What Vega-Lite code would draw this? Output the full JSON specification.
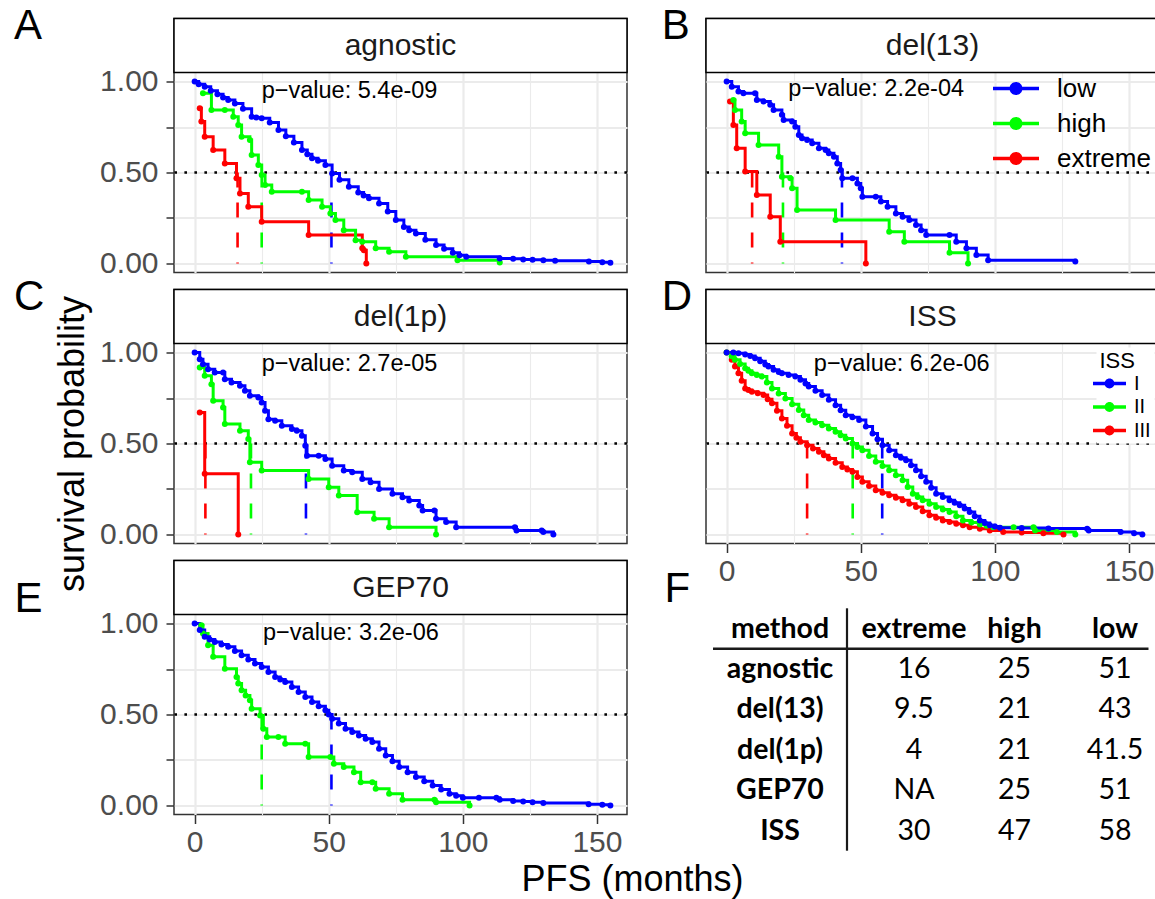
{
 "$schema": "https://vega.github.io/schema/vega-lite/v6.json",
 "usermeta": {"embedOptions": {"actions": false}},
 "padding": {"left": 13, "top": 4.5, "right": 0, "bottom": 0},
 "background": "white",
 "config": {
  "font": "Liberation Sans",
  "view": {"stroke": "#333333", "strokeWidth": 1.5},
  "axis": {"domain": false, "grid": true, "gridColor": "#EBEBEB", "labelFont": "Liberation Sans", "labelFontSize": 30, "labelColor": "#4D4D4D", "tickColor": "#333333", "tickWidth": 1.5, "titleFont": "Liberation Sans", "titleFontSize": 36, "titleFontWeight": "normal", "titleColor": "black"},
  "legend": {"labelFont": "Liberation Sans", "titleFont": "Liberation Sans"}
 },
 "datasets": {
  "km": [
   {"panel":"agnostic","group":"extreme","t":1.9,"s":0.853},{"panel":"agnostic","group":"extreme","t":2.5,"s":0.78},{"panel":"agnostic","group":"extreme","t":3.75,"s":0.697},{"panel":"agnostic","group":"extreme","t":6.9,"s":0.624},{"panel":"agnostic","group":"extreme","t":11.25,"s":0.55},{"panel":"agnostic","group":"extreme","t":15.6,"s":0.468},{"panel":"agnostic","group":"extreme","t":16.9,"s":0.385},{"panel":"agnostic","group":"extreme","t":20,"s":0.312},{"panel":"agnostic","group":"extreme","t":25,"s":0.229},{"panel":"agnostic","group":"extreme","t":42.5,"s":0.156},{"panel":"agnostic","group":"extreme","t":62.5,"s":0.083},{"panel":"agnostic","group":"extreme","t":63.1,"s":0.073},{"panel":"agnostic","group":"extreme","t":64,"s":0},
   {"panel":"agnostic","group":"high","t":3.1,"s":0.936},{"panel":"agnostic","group":"high","t":6.25,"s":0.844},{"panel":"agnostic","group":"high","t":11.25,"s":0.844},{"panel":"agnostic","group":"high","t":14.4,"s":0.807},{"panel":"agnostic","group":"high","t":16.25,"s":0.761},{"panel":"agnostic","group":"high","t":17.5,"s":0.697},{"panel":"agnostic","group":"high","t":20.6,"s":0.679},{"panel":"agnostic","group":"high","t":21.25,"s":0.596},{"panel":"agnostic","group":"high","t":23.75,"s":0.541},{"panel":"agnostic","group":"high","t":25,"s":0.486},{"panel":"agnostic","group":"high","t":26.25,"s":0.431},{"panel":"agnostic","group":"high","t":28.75,"s":0.394},{"panel":"agnostic","group":"high","t":40,"s":0.394},{"panel":"agnostic","group":"high","t":42.5,"s":0.349},{"panel":"agnostic","group":"high","t":47.5,"s":0.312},{"panel":"agnostic","group":"high","t":50.6,"s":0.275},{"panel":"agnostic","group":"high","t":52.5,"s":0.239},{"panel":"agnostic","group":"high","t":55.6,"s":0.183},{"panel":"agnostic","group":"high","t":60,"s":0.128},{"panel":"agnostic","group":"high","t":62.5,"s":0.119},{"panel":"agnostic","group":"high","t":67.5,"s":0.083},{"panel":"agnostic","group":"high","t":72.5,"s":0.064},{"panel":"agnostic","group":"high","t":78.75,"s":0.037},{"panel":"agnostic","group":"high","t":98,"s":0.018},{"panel":"agnostic","group":"high","t":113.75,"s":0.005},
   {"panel":"agnostic","group":"low","t":0,"s":1},{"panel":"agnostic","group":"low","t":1.5,"s":0.985},{"panel":"agnostic","group":"low","t":3.75,"s":0.972},{"panel":"agnostic","group":"low","t":6,"s":0.95},{"panel":"agnostic","group":"low","t":8.5,"s":0.93},{"panel":"agnostic","group":"low","t":10.6,"s":0.913},{"panel":"agnostic","group":"low","t":12.5,"s":0.899},{"panel":"agnostic","group":"low","t":15,"s":0.88},{"panel":"agnostic","group":"low","t":18,"s":0.85},{"panel":"agnostic","group":"low","t":21.25,"s":0.807},{"panel":"agnostic","group":"low","t":23,"s":0.803},{"panel":"agnostic","group":"low","t":25,"s":0.798},{"panel":"agnostic","group":"low","t":28,"s":0.775},{"panel":"agnostic","group":"low","t":31.25,"s":0.734},{"panel":"agnostic","group":"low","t":34,"s":0.7},{"panel":"agnostic","group":"low","t":37,"s":0.665},{"panel":"agnostic","group":"low","t":40,"s":0.624},{"panel":"agnostic","group":"low","t":42,"s":0.6},{"panel":"agnostic","group":"low","t":43.75,"s":0.578},{"panel":"agnostic","group":"low","t":46,"s":0.565},{"panel":"agnostic","group":"low","t":48.75,"s":0.541},{"panel":"agnostic","group":"low","t":51.25,"s":0.495},{"panel":"agnostic","group":"low","t":54,"s":0.46},{"panel":"agnostic","group":"low","t":57.5,"s":0.422},{"panel":"agnostic","group":"low","t":61,"s":0.39},{"panel":"agnostic","group":"low","t":63,"s":0.374},{"panel":"agnostic","group":"low","t":65,"s":0.358},{"panel":"agnostic","group":"low","t":68.75,"s":0.33},{"panel":"agnostic","group":"low","t":72,"s":0.285},{"panel":"agnostic","group":"low","t":75,"s":0.239},{"panel":"agnostic","group":"low","t":78,"s":0.2},{"panel":"agnostic","group":"low","t":80,"s":0.183},{"panel":"agnostic","group":"low","t":82.5,"s":0.165},{"panel":"agnostic","group":"low","t":86,"s":0.13},{"panel":"agnostic","group":"low","t":90,"s":0.101},{"panel":"agnostic","group":"low","t":93,"s":0.08},{"panel":"agnostic","group":"low","t":96.25,"s":0.059},{"panel":"agnostic","group":"low","t":98.75,"s":0.045},{"panel":"agnostic","group":"low","t":101.25,"s":0.037},{"panel":"agnostic","group":"low","t":113.75,"s":0.027},{"panel":"agnostic","group":"low","t":118.75,"s":0.025},{"panel":"agnostic","group":"low","t":122.5,"s":0.022},{"panel":"agnostic","group":"low","t":126,"s":0.02},{"panel":"agnostic","group":"low","t":130,"s":0.018},{"panel":"agnostic","group":"low","t":134.4,"s":0.015},{"panel":"agnostic","group":"low","t":147,"s":0.01},{"panel":"agnostic","group":"low","t":152,"s":0.006},{"panel":"agnostic","group":"low","t":155,"s":0.003},

   {"panel":"del(13)","group":"extreme","t":1.25,"s":0.89},{"panel":"del(13)","group":"extreme","t":2.5,"s":0.761},{"panel":"del(13)","group":"extreme","t":3.75,"s":0.633},{"panel":"del(13)","group":"extreme","t":6.9,"s":0.505},{"panel":"del(13)","group":"extreme","t":11.25,"s":0.376},{"panel":"del(13)","group":"extreme","t":16.25,"s":0.257},{"panel":"del(13)","group":"extreme","t":20,"s":0.119},{"panel":"del(13)","group":"extreme","t":51.9,"s":0},
   {"panel":"del(13)","group":"high","t":2.5,"s":0.899},{"panel":"del(13)","group":"high","t":3.1,"s":0.844},{"panel":"del(13)","group":"high","t":5.6,"s":0.78},{"panel":"del(13)","group":"high","t":6.9,"s":0.716},{"panel":"del(13)","group":"high","t":11.9,"s":0.651},{"panel":"del(13)","group":"high","t":19.4,"s":0.587},{"panel":"del(13)","group":"high","t":20.6,"s":0.477},{"panel":"del(13)","group":"high","t":23.75,"s":0.468},{"panel":"del(13)","group":"high","t":24.4,"s":0.413},{"panel":"del(13)","group":"high","t":26.25,"s":0.294},{"panel":"del(13)","group":"high","t":40.6,"s":0.239},{"panel":"del(13)","group":"high","t":60.6,"s":0.174},{"panel":"del(13)","group":"high","t":66.25,"s":0.119},{"panel":"del(13)","group":"high","t":83.1,"s":0.059},{"panel":"del(13)","group":"high","t":90,"s":0},
   {"panel":"del(13)","group":"low","t":0,"s":1},{"panel":"del(13)","group":"low","t":1.9,"s":0.972},{"panel":"del(13)","group":"low","t":4.4,"s":0.945},{"panel":"del(13)","group":"low","t":6.25,"s":0.936},{"panel":"del(13)","group":"low","t":10.6,"s":0.936},{"panel":"del(13)","group":"low","t":11.25,"s":0.899},{"panel":"del(13)","group":"low","t":13.75,"s":0.89},{"panel":"del(13)","group":"low","t":16.25,"s":0.872},{"panel":"del(13)","group":"low","t":17.5,"s":0.844},{"panel":"del(13)","group":"low","t":20.6,"s":0.817},{"panel":"del(13)","group":"low","t":21.25,"s":0.789},{"panel":"del(13)","group":"low","t":24.4,"s":0.78},{"panel":"del(13)","group":"low","t":25.6,"s":0.752},{"panel":"del(13)","group":"low","t":26.9,"s":0.706},{"panel":"del(13)","group":"low","t":28.1,"s":0.688},{"panel":"del(13)","group":"low","t":30,"s":0.679},{"panel":"del(13)","group":"low","t":31.9,"s":0.661},{"panel":"del(13)","group":"low","t":34.4,"s":0.633},{"panel":"del(13)","group":"low","t":36.9,"s":0.624},{"panel":"del(13)","group":"low","t":38.1,"s":0.606},{"panel":"del(13)","group":"low","t":40,"s":0.587},{"panel":"del(13)","group":"low","t":41.25,"s":0.55},{"panel":"del(13)","group":"low","t":42.5,"s":0.514},{"panel":"del(13)","group":"low","t":43.1,"s":0.468},{"panel":"del(13)","group":"low","t":46.9,"s":0.468},{"panel":"del(13)","group":"low","t":48.75,"s":0.44},{"panel":"del(13)","group":"low","t":50,"s":0.413},{"panel":"del(13)","group":"low","t":50.6,"s":0.367},{"panel":"del(13)","group":"low","t":55.6,"s":0.367},{"panel":"del(13)","group":"low","t":57.5,"s":0.34},{"panel":"del(13)","group":"low","t":60,"s":0.312},{"panel":"del(13)","group":"low","t":63.1,"s":0.275},{"panel":"del(13)","group":"low","t":65.6,"s":0.257},{"panel":"del(13)","group":"low","t":68.1,"s":0.239},{"panel":"del(13)","group":"low","t":70.6,"s":0.211},{"panel":"del(13)","group":"low","t":72.5,"s":0.183},{"panel":"del(13)","group":"low","t":74.4,"s":0.156},{"panel":"del(13)","group":"low","t":83.1,"s":0.156},{"panel":"del(13)","group":"low","t":85.6,"s":0.119},{"panel":"del(13)","group":"low","t":89.4,"s":0.083},{"panel":"del(13)","group":"low","t":93.1,"s":0.046},{"panel":"del(13)","group":"low","t":97.5,"s":0.018},{"panel":"del(13)","group":"low","t":130,"s":0.01},

   {"panel":"del(1p)","group":"extreme","t":1.9,"s":0.671},{"panel":"del(1p)","group":"extreme","t":3.75,"s":0.333},{"panel":"del(1p)","group":"extreme","t":16.25,"s":0},
   {"panel":"del(1p)","group":"high","t":1.9,"s":0.918},{"panel":"del(1p)","group":"high","t":3.75,"s":0.872},{"panel":"del(1p)","group":"high","t":6.25,"s":0.826},{"panel":"del(1p)","group":"high","t":6.9,"s":0.735},{"panel":"del(1p)","group":"high","t":10.6,"s":0.698},{"panel":"del(1p)","group":"high","t":11.25,"s":0.607},{"panel":"del(1p)","group":"high","t":16.9,"s":0.57},{"panel":"del(1p)","group":"high","t":20,"s":0.525},{"panel":"del(1p)","group":"high","t":20.6,"s":0.397},{"panel":"del(1p)","group":"high","t":25,"s":0.351},{"panel":"del(1p)","group":"high","t":42.5,"s":0.305},{"panel":"del(1p)","group":"high","t":50,"s":0.26},{"panel":"del(1p)","group":"high","t":53.75,"s":0.214},{"panel":"del(1p)","group":"high","t":60.6,"s":0.122},{"panel":"del(1p)","group":"high","t":66.9,"s":0.086},{"panel":"del(1p)","group":"high","t":72.5,"s":0.04},{"panel":"del(1p)","group":"high","t":90,"s":0},
   {"panel":"del(1p)","group":"low","t":0,"s":1},{"panel":"del(1p)","group":"low","t":1.9,"s":0.963},{"panel":"del(1p)","group":"low","t":3.1,"s":0.936},{"panel":"del(1p)","group":"low","t":5,"s":0.909},{"panel":"del(1p)","group":"low","t":7.5,"s":0.89},{"panel":"del(1p)","group":"low","t":10.6,"s":0.89},{"panel":"del(1p)","group":"low","t":11.25,"s":0.854},{"panel":"del(1p)","group":"low","t":13.75,"s":0.835},{"panel":"del(1p)","group":"low","t":16.9,"s":0.817},{"panel":"del(1p)","group":"low","t":18.75,"s":0.79},{"panel":"del(1p)","group":"low","t":20.6,"s":0.762},{"panel":"del(1p)","group":"low","t":23.75,"s":0.753},{"panel":"del(1p)","group":"low","t":25,"s":0.726},{"panel":"del(1p)","group":"low","t":26.25,"s":0.68},{"panel":"del(1p)","group":"low","t":27.5,"s":0.634},{"panel":"del(1p)","group":"low","t":30,"s":0.625},{"panel":"del(1p)","group":"low","t":32.5,"s":0.598},{"panel":"del(1p)","group":"low","t":36.25,"s":0.58},{"panel":"del(1p)","group":"low","t":38.1,"s":0.57},{"panel":"del(1p)","group":"low","t":40,"s":0.543},{"panel":"del(1p)","group":"low","t":41.25,"s":0.488},{"panel":"del(1p)","group":"low","t":41.9,"s":0.433},{"panel":"del(1p)","group":"low","t":46.25,"s":0.433},{"panel":"del(1p)","group":"low","t":48.75,"s":0.415},{"panel":"del(1p)","group":"low","t":51.25,"s":0.378},{"panel":"del(1p)","group":"low","t":55.6,"s":0.351},{"panel":"del(1p)","group":"low","t":58.75,"s":0.342},{"panel":"del(1p)","group":"low","t":62.5,"s":0.305},{"panel":"del(1p)","group":"low","t":65.6,"s":0.287},{"panel":"del(1p)","group":"low","t":68.75,"s":0.25},{"panel":"del(1p)","group":"low","t":73.75,"s":0.223},{"panel":"del(1p)","group":"low","t":77.5,"s":0.205},{"panel":"del(1p)","group":"low","t":80,"s":0.186},{"panel":"del(1p)","group":"low","t":83.75,"s":0.159},{"panel":"del(1p)","group":"low","t":85,"s":0.132},{"panel":"del(1p)","group":"low","t":89.4,"s":0.132},{"panel":"del(1p)","group":"low","t":90,"s":0.086},{"panel":"del(1p)","group":"low","t":93.75,"s":0.068},{"panel":"del(1p)","group":"low","t":97.5,"s":0.04},{"panel":"del(1p)","group":"low","t":119.4,"s":0.04},{"panel":"del(1p)","group":"low","t":120,"s":0.022},{"panel":"del(1p)","group":"low","t":129.4,"s":0.022},{"panel":"del(1p)","group":"low","t":130,"s":0.013},{"panel":"del(1p)","group":"low","t":133.75,"s":0},

   {"panel":"ISS","group":"III","t":0,"s":1},{"panel":"ISS","group":"III","t":1.9,"s":0.96},{"panel":"ISS","group":"III","t":3.1,"s":0.923},{"panel":"ISS","group":"III","t":4.4,"s":0.886},{"panel":"ISS","group":"III","t":5.6,"s":0.845},{"panel":"ISS","group":"III","t":6.9,"s":0.803},{"panel":"ISS","group":"III","t":8.1,"s":0.794},{"panel":"ISS","group":"III","t":9.4,"s":0.785},{"panel":"ISS","group":"III","t":11.6,"s":0.776},{"panel":"ISS","group":"III","t":13.75,"s":0.767},{"panel":"ISS","group":"III","t":15.3,"s":0.744},{"panel":"ISS","group":"III","t":16.9,"s":0.721},{"panel":"ISS","group":"III","t":18.75,"s":0.68},{"panel":"ISS","group":"III","t":20.6,"s":0.638},{"panel":"ISS","group":"III","t":22.5,"s":0.597},{"panel":"ISS","group":"III","t":24.4,"s":0.555},{"panel":"ISS","group":"III","t":26,"s":0.532},{"panel":"ISS","group":"III","t":27.5,"s":0.509},{"panel":"ISS","group":"III","t":30,"s":0.491},{"panel":"ISS","group":"III","t":32.2,"s":0.472},{"panel":"ISS","group":"III","t":34.4,"s":0.454},{"panel":"ISS","group":"III","t":36.25,"s":0.436},{"panel":"ISS","group":"III","t":38.1,"s":0.417},{"panel":"ISS","group":"III","t":40.6,"s":0.394},{"panel":"ISS","group":"III","t":43.1,"s":0.371},{"panel":"ISS","group":"III","t":45,"s":0.357},{"panel":"ISS","group":"III","t":46.9,"s":0.344},{"panel":"ISS","group":"III","t":48.75,"s":0.316},{"panel":"ISS","group":"III","t":50.6,"s":0.289},{"panel":"ISS","group":"III","t":53.1,"s":0.266},{"panel":"ISS","group":"III","t":55.6,"s":0.243},{"panel":"ISS","group":"III","t":58.1,"s":0.229},{"panel":"ISS","group":"III","t":60.6,"s":0.215},{"panel":"ISS","group":"III","t":63.1,"s":0.201},{"panel":"ISS","group":"III","t":65.6,"s":0.188},{"panel":"ISS","group":"III","t":68.1,"s":0.169},{"panel":"ISS","group":"III","t":70.6,"s":0.151},{"panel":"ISS","group":"III","t":73.1,"s":0.128},{"panel":"ISS","group":"III","t":75.6,"s":0.105},{"panel":"ISS","group":"III","t":78.1,"s":0.091},{"panel":"ISS","group":"III","t":80.6,"s":0.077},{"panel":"ISS","group":"III","t":83.1,"s":0.068},{"panel":"ISS","group":"III","t":85.6,"s":0.059},{"panel":"ISS","group":"III","t":88.1,"s":0.05},{"panel":"ISS","group":"III","t":90.6,"s":0.04},{"panel":"ISS","group":"III","t":94.4,"s":0.031},{"panel":"ISS","group":"III","t":98.1,"s":0.022},{"panel":"ISS","group":"III","t":103.1,"s":0.013},{"panel":"ISS","group":"III","t":110,"s":0.01},{"panel":"ISS","group":"III","t":118.1,"s":0.007},{"panel":"ISS","group":"III","t":125.6,"s":0},
   {"panel":"ISS","group":"II","t":0,"s":1},{"panel":"ISS","group":"II","t":1.9,"s":0.98},{"panel":"ISS","group":"II","t":3.1,"s":0.96},{"panel":"ISS","group":"II","t":5,"s":0.937},{"panel":"ISS","group":"II","t":6.9,"s":0.914},{"panel":"ISS","group":"II","t":8.1,"s":0.9},{"panel":"ISS","group":"II","t":9.4,"s":0.886},{"panel":"ISS","group":"II","t":11.25,"s":0.877},{"panel":"ISS","group":"II","t":13.1,"s":0.868},{"panel":"ISS","group":"II","t":15,"s":0.835},{"panel":"ISS","group":"II","t":16.9,"s":0.803},{"panel":"ISS","group":"II","t":19.4,"s":0.775},{"panel":"ISS","group":"II","t":21.9,"s":0.748},{"panel":"ISS","group":"II","t":24.4,"s":0.716},{"panel":"ISS","group":"II","t":26.9,"s":0.684},{"panel":"ISS","group":"II","t":28.75,"s":0.656},{"panel":"ISS","group":"II","t":30.6,"s":0.629},{"panel":"ISS","group":"II","t":33.1,"s":0.615},{"panel":"ISS","group":"II","t":35.6,"s":0.601},{"panel":"ISS","group":"II","t":38.1,"s":0.583},{"panel":"ISS","group":"II","t":40.6,"s":0.564},{"panel":"ISS","group":"II","t":42.5,"s":0.546},{"panel":"ISS","group":"II","t":44.4,"s":0.528},{"panel":"ISS","group":"II","t":46.9,"s":0.5},{"panel":"ISS","group":"II","t":48.75,"s":0.481},{"panel":"ISS","group":"II","t":50.6,"s":0.463},{"panel":"ISS","group":"II","t":53.1,"s":0.431},{"panel":"ISS","group":"II","t":55.6,"s":0.399},{"panel":"ISS","group":"II","t":58.1,"s":0.376},{"panel":"ISS","group":"II","t":60.6,"s":0.353},{"panel":"ISS","group":"II","t":63.1,"s":0.326},{"panel":"ISS","group":"II","t":65.6,"s":0.298},{"panel":"ISS","group":"II","t":67.5,"s":0.261},{"panel":"ISS","group":"II","t":69.4,"s":0.224},{"panel":"ISS","group":"II","t":71.25,"s":0.206},{"panel":"ISS","group":"II","t":73.1,"s":0.188},{"panel":"ISS","group":"II","t":75.6,"s":0.169},{"panel":"ISS","group":"II","t":78.1,"s":0.151},{"panel":"ISS","group":"II","t":80.6,"s":0.137},{"panel":"ISS","group":"II","t":83.1,"s":0.123},{"panel":"ISS","group":"II","t":85.6,"s":0.1},{"panel":"ISS","group":"II","t":88.1,"s":0.077},{"panel":"ISS","group":"II","t":91.25,"s":0.066},{"panel":"ISS","group":"II","t":94.4,"s":0.055},{"panel":"ISS","group":"II","t":96.9,"s":0.047},{"panel":"ISS","group":"II","t":99.4,"s":0.04},{"panel":"ISS","group":"II","t":107,"s":0.04},{"panel":"ISS","group":"II","t":114.4,"s":0.04},{"panel":"ISS","group":"II","t":115,"s":0.022},{"panel":"ISS","group":"II","t":123.1,"s":0.013},{"panel":"ISS","group":"II","t":130,"s":0},
   {"panel":"ISS","group":"I","t":0,"s":1},{"panel":"ISS","group":"I","t":2.5,"s":1},{"panel":"ISS","group":"I","t":4.4,"s":0.996},{"panel":"ISS","group":"I","t":6.9,"s":0.99},{"panel":"ISS","group":"I","t":8.8,"s":0.981},{"panel":"ISS","group":"I","t":10.6,"s":0.969},{"panel":"ISS","group":"I","t":12.5,"s":0.952},{"panel":"ISS","group":"I","t":14.4,"s":0.935},{"panel":"ISS","group":"I","t":15.6,"s":0.923},{"panel":"ISS","group":"I","t":17.5,"s":0.905},{"panel":"ISS","group":"I","t":19.4,"s":0.893},{"panel":"ISS","group":"I","t":20.6,"s":0.886},{"panel":"ISS","group":"I","t":23.1,"s":0.877},{"panel":"ISS","group":"I","t":25.6,"s":0.868},{"panel":"ISS","group":"I","t":27.5,"s":0.85},{"panel":"ISS","group":"I","t":29.4,"s":0.83},{"panel":"ISS","group":"I","t":30.6,"s":0.813},{"panel":"ISS","group":"I","t":33.1,"s":0.79},{"panel":"ISS","group":"I","t":35.6,"s":0.767},{"panel":"ISS","group":"I","t":38.1,"s":0.74},{"panel":"ISS","group":"I","t":40.6,"s":0.711},{"panel":"ISS","group":"I","t":42.5,"s":0.683},{"panel":"ISS","group":"I","t":44.4,"s":0.656},{"panel":"ISS","group":"I","t":46.9,"s":0.645},{"panel":"ISS","group":"I","t":49.4,"s":0.629},{"panel":"ISS","group":"I","t":51.9,"s":0.594},{"panel":"ISS","group":"I","t":54.4,"s":0.555},{"panel":"ISS","group":"I","t":56.25,"s":0.523},{"panel":"ISS","group":"I","t":58.1,"s":0.491},{"panel":"ISS","group":"I","t":60.6,"s":0.463},{"panel":"ISS","group":"I","t":63.1,"s":0.436},{"panel":"ISS","group":"I","t":65,"s":0.422},{"panel":"ISS","group":"I","t":66.9,"s":0.408},{"panel":"ISS","group":"I","t":68.75,"s":0.38},{"panel":"ISS","group":"I","t":70.6,"s":0.353},{"panel":"ISS","group":"I","t":72.5,"s":0.32},{"panel":"ISS","group":"I","t":74.4,"s":0.289},{"panel":"ISS","group":"I","t":76.25,"s":0.256},{"panel":"ISS","group":"I","t":78.1,"s":0.224},{"panel":"ISS","group":"I","t":80.6,"s":0.206},{"panel":"ISS","group":"I","t":83.1,"s":0.188},{"panel":"ISS","group":"I","t":85,"s":0.174},{"panel":"ISS","group":"I","t":86.9,"s":0.16},{"panel":"ISS","group":"I","t":88.75,"s":0.142},{"panel":"ISS","group":"I","t":90.6,"s":0.123},{"panel":"ISS","group":"I","t":92.5,"s":0.1},{"panel":"ISS","group":"I","t":94.4,"s":0.077},{"panel":"ISS","group":"I","t":96.25,"s":0.063},{"panel":"ISS","group":"I","t":98.1,"s":0.05},{"panel":"ISS","group":"I","t":100,"s":0.043},{"panel":"ISS","group":"I","t":101.9,"s":0.037},{"panel":"ISS","group":"I","t":110,"s":0.035},{"panel":"ISS","group":"I","t":120,"s":0.033},{"panel":"ISS","group":"I","t":134.4,"s":0.031},{"panel":"ISS","group":"I","t":135,"s":0.022},{"panel":"ISS","group":"I","t":146.9,"s":0.013},{"panel":"ISS","group":"I","t":151.9,"s":0.006},{"panel":"ISS","group":"I","t":155,"s":0},

   {"panel":"GEP70","group":"high","t":2.5,"s":0.991},{"panel":"GEP70","group":"high","t":3.1,"s":0.945},{"panel":"GEP70","group":"high","t":5,"s":0.881},{"panel":"GEP70","group":"high","t":6.9,"s":0.817},{"panel":"GEP70","group":"high","t":11.25,"s":0.752},{"panel":"GEP70","group":"high","t":15.6,"s":0.706},{"panel":"GEP70","group":"high","t":16.25,"s":0.67},{"panel":"GEP70","group":"high","t":17.5,"s":0.633},{"panel":"GEP70","group":"high","t":19,"s":0.605},{"panel":"GEP70","group":"high","t":20.6,"s":0.578},{"panel":"GEP70","group":"high","t":21.25,"s":0.532},{"panel":"GEP70","group":"high","t":24.4,"s":0.495},{"panel":"GEP70","group":"high","t":25.6,"s":0.422},{"panel":"GEP70","group":"high","t":26.9,"s":0.376},{"panel":"GEP70","group":"high","t":31.25,"s":0.376},{"panel":"GEP70","group":"high","t":33.75,"s":0.339},{"panel":"GEP70","group":"high","t":41.25,"s":0.339},{"panel":"GEP70","group":"high","t":42.5,"s":0.266},{"panel":"GEP70","group":"high","t":50.6,"s":0.266},{"panel":"GEP70","group":"high","t":51.9,"s":0.229},{"panel":"GEP70","group":"high","t":55.6,"s":0.211},{"panel":"GEP70","group":"high","t":59.4,"s":0.183},{"panel":"GEP70","group":"high","t":61.9,"s":0.128},{"panel":"GEP70","group":"high","t":66.25,"s":0.128},{"panel":"GEP70","group":"high","t":67.5,"s":0.092},{"panel":"GEP70","group":"high","t":72.5,"s":0.064},{"panel":"GEP70","group":"high","t":77.5,"s":0.031},{"panel":"GEP70","group":"high","t":89.4,"s":0.031},{"panel":"GEP70","group":"high","t":90,"s":0.018},{"panel":"GEP70","group":"high","t":102.5,"s":0},
   {"panel":"GEP70","group":"low","t":0,"s":1},{"panel":"GEP70","group":"low","t":1.9,"s":0.965},{"panel":"GEP70","group":"low","t":3.75,"s":0.927},{"panel":"GEP70","group":"low","t":5.6,"s":0.912},{"panel":"GEP70","group":"low","t":7.5,"s":0.899},{"panel":"GEP70","group":"low","t":10,"s":0.885},{"panel":"GEP70","group":"low","t":12.5,"s":0.872},{"panel":"GEP70","group":"low","t":15,"s":0.849},{"panel":"GEP70","group":"low","t":17.5,"s":0.826},{"panel":"GEP70","group":"low","t":20,"s":0.803},{"panel":"GEP70","group":"low","t":22.5,"s":0.78},{"panel":"GEP70","group":"low","t":25,"s":0.761},{"panel":"GEP70","group":"low","t":27.5,"s":0.734},{"panel":"GEP70","group":"low","t":30,"s":0.706},{"panel":"GEP70","group":"low","t":31.9,"s":0.692},{"panel":"GEP70","group":"low","t":33.75,"s":0.679},{"panel":"GEP70","group":"low","t":36.25,"s":0.651},{"panel":"GEP70","group":"low","t":38.75,"s":0.624},{"panel":"GEP70","group":"low","t":41.25,"s":0.596},{"panel":"GEP70","group":"low","t":43.75,"s":0.569},{"panel":"GEP70","group":"low","t":46.25,"s":0.546},{"panel":"GEP70","group":"low","t":48.75,"s":0.523},{"panel":"GEP70","group":"low","t":50,"s":0.5},{"panel":"GEP70","group":"low","t":51.25,"s":0.477},{"panel":"GEP70","group":"low","t":53.75,"s":0.45},{"panel":"GEP70","group":"low","t":56.25,"s":0.422},{"panel":"GEP70","group":"low","t":58.75,"s":0.404},{"panel":"GEP70","group":"low","t":61.25,"s":0.385},{"panel":"GEP70","group":"low","t":63.75,"s":0.367},{"panel":"GEP70","group":"low","t":66.25,"s":0.349},{"panel":"GEP70","group":"low","t":68.75,"s":0.312},{"panel":"GEP70","group":"low","t":71.25,"s":0.275},{"panel":"GEP70","group":"low","t":73.75,"s":0.243},{"panel":"GEP70","group":"low","t":76.25,"s":0.211},{"panel":"GEP70","group":"low","t":79.4,"s":0.183},{"panel":"GEP70","group":"low","t":82.5,"s":0.156},{"panel":"GEP70","group":"low","t":85.6,"s":0.133},{"panel":"GEP70","group":"low","t":88.75,"s":0.11},{"panel":"GEP70","group":"low","t":91.9,"s":0.087},{"panel":"GEP70","group":"low","t":95,"s":0.064},{"panel":"GEP70","group":"low","t":97.5,"s":0.053},{"panel":"GEP70","group":"low","t":100,"s":0.042},{"panel":"GEP70","group":"low","t":106,"s":0.042},{"panel":"GEP70","group":"low","t":112.5,"s":0.042},{"panel":"GEP70","group":"low","t":113.75,"s":0.031},{"panel":"GEP70","group":"low","t":118.75,"s":0.024},{"panel":"GEP70","group":"low","t":122.5,"s":0.022},{"panel":"GEP70","group":"low","t":126,"s":0.018},{"panel":"GEP70","group":"low","t":130,"s":0.013},{"panel":"GEP70","group":"low","t":146.9,"s":0.006},{"panel":"GEP70","group":"low","t":152,"s":0.004},{"panel":"GEP70","group":"low","t":155,"s":0}
  ],
  "med": [
   {"panel":"agnostic","group":"extreme","median":16},{"panel":"agnostic","group":"high","median":25},{"panel":"agnostic","group":"low","median":51},
   {"panel":"del(13)","group":"extreme","median":9.5},{"panel":"del(13)","group":"high","median":21},{"panel":"del(13)","group":"low","median":43},
   {"panel":"del(1p)","group":"extreme","median":4},{"panel":"del(1p)","group":"high","median":21},{"panel":"del(1p)","group":"low","median":41.5},
   {"panel":"GEP70","group":"high","median":25},{"panel":"GEP70","group":"low","median":51},
   {"panel":"ISS","group":"III","median":30},{"panel":"ISS","group":"II","median":47},{"panel":"ISS","group":"I","median":58}
  ],
  "pv": [
   {"panel":"agnostic","label":"p−value: 5.4e-09"},
   {"panel":"del(13)","label":"p−value: 2.2e-04"},
   {"panel":"del(1p)","label":"p−value: 2.7e-05"},
   {"panel":"ISS","label":"p−value: 6.2e-06"},
   {"panel":"GEP70","label":"p−value: 3.2e-06"}
  ],
  "strips": [{"panel":"agnostic"},{"panel":"del(13)"},{"panel":"del(1p)"},{"panel":"ISS"},{"panel":"GEP70"}],
  "tblh": [{"h":"method"},{"h":"extreme"},{"h":"high"},{"h":"low"}],
  "tbl": [
   {"method":"agnostic","extreme":"16","high":"25","low":"51"},
   {"method":"del(13)","extreme":"9.5","high":"21","low":"43"},
   {"method":"del(1p)","extreme":"4","high":"21","low":"41.5"},
   {"method":"GEP70","extreme":"NA","high":"25","low":"51"},
   {"method":"ISS","extreme":"30","high":"47","low":"58"}
  ]
 },
 "columns": 2,
 "spacing": {"row": 17, "column": 79},
 "bounds": "flush",
 "resolve": {"scale": {"color": "independent", "stroke": "independent"}, "legend": {"color": "independent", "stroke": "independent"}},
 "concat": [
  {
   "width": 453, "height": 254,
   "title": {"text": "A", "anchor": "start", "frame": "group", "offset": 0, "baseline": "top", "dx": -160, "dy": 30.5, "fontSize": 42, "fontWeight": "normal", "color": "black"},
   "layer": [
    {"data": {"name": "strips"}, "transform": [{"filter": "datum.panel === 'agnostic'"}], "mark": {"type": "rect", "fill": "white", "stroke": "black", "strokeWidth": 1.5},
     "encoding": {"x": {"datum": -7.7, "type": "quantitative", "scale": {"domain": [-7.7, 161.2], "nice": false, "zero": false},
       "axis": {"title": null, "values": [0,25,50,75,100,125,150], "labels": false, "ticks": false, "gridWidth": {"condition": {"test": "datum.value % 50 === 0", "value": 2.2}, "value": 1.1}}}, "x2": {"datum": 161.2},
      "y": {"datum": 1.05, "type": "quantitative", "scale": {"domain": [-0.05, 1.347], "nice": false, "zero": false},
       "axis": {"title": null, "values": [0,0.125,0.25,0.375,0.5,0.625,0.75,0.875,1], "labelExpr": "datum.value % 0.5 === 0 ? format(datum.value, '.2f') : ''", "tickOpacity": {"condition": {"test": "datum.value % 0.25 === 0", "value": 1}, "value": 0}, "tickSize": 8, "labelPadding": 8, "gridWidth": {"condition": {"test": "datum.value % 0.25 === 0", "value": 2.2}, "value": 1.1}}}, "y2": {"datum": 1.347}}},
    {"data": {"name": "strips"}, "transform": [{"filter": "datum.panel === 'agnostic'"}], "mark": {"type": "text", "fontSize": 30, "color": "#1A1A1A", "baseline": "middle"},
     "encoding": {"y": {"datum": 1.1985, "type": "quantitative"}, "text": {"field": "panel"}}},
    {"data": {"values": [{}]}, "mark": {"type": "rule", "color": "black", "strokeWidth": 2.6, "strokeDash": [2.6, 7.4]},
     "encoding": {"y": {"datum": 0.5, "type": "quantitative"}}},
    {"data": {"name": "med"}, "transform": [{"filter": "datum.panel === 'agnostic'"}],
     "mark": {"type": "rule", "strokeWidth": 2.6, "strokeDash": [15, 15]},
     "encoding": {"x": {"field": "median", "type": "quantitative"},
      "y": {"datum": 0.5, "type": "quantitative"}, "y2": {"datum": 0},
      "stroke": {"field": "group", "type": "nominal", "scale": {"domain": ["low","high","extreme","none"], "range": ["#0000FF","#00FF00","#FF0000","#000000"]}, "legend": null}}},
    {"data": {"name": "km"}, "transform": [{"filter": "datum.panel === 'agnostic'"}],
     "mark": {"type": "line", "interpolate": "step-after", "strokeWidth": 3},
     "encoding": {"x": {"field": "t", "type": "quantitative"}, "y": {"field": "s", "type": "quantitative"},
      "stroke": {"field": "group", "type": "nominal", "scale": {"domain": ["low","high","extreme","none"], "range": ["#0000FF","#00FF00","#FF0000","#000000"]}, "legend": null}}},
    {"data": {"name": "km"}, "transform": [{"filter": "datum.panel === 'agnostic'"}],
     "mark": {"type": "circle", "size": 36, "opacity": 1},
     "encoding": {"x": {"field": "t", "type": "quantitative"}, "y": {"field": "s", "type": "quantitative"},
      "color": {"field": "group", "type": "nominal", "scale": {"domain": ["low","high","extreme"], "range": ["#0000FF","#00FF00","#FF0000"]}, "legend": null}}},
    {"data": {"name": "pv"}, "transform": [{"filter": "datum.panel === 'agnostic'"}],
     "mark": {"type": "text", "align": "left", "baseline": "middle", "fontSize": 23.5, "color": "black"},
     "encoding": {"x": {"datum": 25, "type": "quantitative"}, "y": {"datum": 0.95, "type": "quantitative"}, "text": {"field": "label"}}}
   ]
  },
  {
   "width": 453, "height": 254,
   "title": {"text": "B", "anchor": "start", "frame": "group", "offset": 0, "baseline": "top", "dx": -44.3, "dy": 30.5, "fontSize": 42, "fontWeight": "normal", "color": "black"},
   "layer": [
    {"data": {"name": "strips"}, "transform": [{"filter": "datum.panel === 'del(13)'"}], "mark": {"type": "rect", "fill": "white", "stroke": "black", "strokeWidth": 1.5},
     "encoding": {"x": {"datum": -7.7, "type": "quantitative", "scale": {"domain": [-7.7, 161.2], "nice": false, "zero": false},
       "axis": {"title": null, "values": [0,25,50,75,100,125,150], "labels": false, "ticks": false, "gridWidth": {"condition": {"test": "datum.value % 50 === 0", "value": 2.2}, "value": 1.1}}}, "x2": {"datum": 161.2},
      "y": {"datum": 1.05, "type": "quantitative", "scale": {"domain": [-0.05, 1.347], "nice": false, "zero": false},
       "axis": {"title": null, "values": [0,0.125,0.25,0.375,0.5,0.625,0.75,0.875,1], "labels": false, "ticks": false, "gridWidth": {"condition": {"test": "datum.value % 0.25 === 0", "value": 2.2}, "value": 1.1}}}, "y2": {"datum": 1.347}}},
    {"data": {"name": "strips"}, "transform": [{"filter": "datum.panel === 'del(13)'"}], "mark": {"type": "text", "fontSize": 30, "color": "#1A1A1A", "baseline": "middle"},
     "encoding": {"y": {"datum": 1.1985, "type": "quantitative"}, "text": {"field": "panel"}}},
    {"data": {"values": [{}]}, "mark": {"type": "rule", "color": "black", "strokeWidth": 2.6, "strokeDash": [2.6, 7.4]},
     "encoding": {"y": {"datum": 0.5, "type": "quantitative"}}},
    {"data": {"name": "med"}, "transform": [{"filter": "datum.panel === 'del(13)'"}],
     "mark": {"type": "rule", "strokeWidth": 2.6, "strokeDash": [15, 15]},
     "encoding": {"x": {"field": "median", "type": "quantitative"},
      "y": {"datum": 0.5, "type": "quantitative"}, "y2": {"datum": 0},
      "stroke": {"field": "group", "type": "nominal", "scale": {"domain": ["low","high","extreme","none"], "range": ["#0000FF","#00FF00","#FF0000","#000000"]}, "legend": null}}},
    {"data": {"name": "km"}, "transform": [{"filter": "datum.panel === 'del(13)'"}],
     "mark": {"type": "line", "interpolate": "step-after", "strokeWidth": 3},
     "encoding": {"x": {"field": "t", "type": "quantitative"}, "y": {"field": "s", "type": "quantitative"},
      "stroke": {"field": "group", "type": "nominal", "scale": {"domain": ["low","high","extreme","none"], "range": ["#0000FF","#00FF00","#FF0000","#000000"]}, "legend": null}}},
    {"data": {"name": "km"}, "transform": [{"filter": "datum.panel === 'del(13)'"}],
     "mark": {"type": "circle", "size": 36, "opacity": 1},
     "encoding": {"x": {"field": "t", "type": "quantitative"}, "y": {"field": "s", "type": "quantitative"},
      "color": {"field": "group", "type": "nominal", "scale": {"domain": ["low","high","extreme"], "range": ["#0000FF","#00FF00","#FF0000"]},
       "legend": {"orient": "none", "legendX": 297, "legendY": 57, "title": null, "symbolType": "M-2,-0.15H2V0.15H-2Z M0.565,0A0.565,0.565 0 1,1 -0.565,0A0.565,0.565 0 1,1 0.565,0Z", "symbolSize": 529, "symbolStrokeWidth": 0, "symbolOffset": 0, "labelOffset": 28, "labelFontSize": 26, "labelColor": "black", "labelLimit": 300, "rowPadding": 9, "padding": 0}}}},
    {"data": {"name": "pv"}, "transform": [{"filter": "datum.panel === 'del(13)'"}],
     "mark": {"type": "text", "align": "left", "baseline": "middle", "fontSize": 23.5, "color": "black"},
     "encoding": {"x": {"datum": 23, "type": "quantitative"}, "y": {"datum": 0.96, "type": "quantitative"}, "text": {"field": "label"}}}
   ]
  },
  {
   "width": 453, "height": 254,
   "title": {"text": "C", "anchor": "start", "frame": "group", "offset": 0, "baseline": "top", "dx": -160, "dy": 30.5, "fontSize": 42, "fontWeight": "normal", "color": "black"},
   "layer": [
    {"data": {"name": "strips"}, "transform": [{"filter": "datum.panel === 'del(1p)'"}], "mark": {"type": "rect", "fill": "white", "stroke": "black", "strokeWidth": 1.5},
     "encoding": {"x": {"datum": -7.7, "type": "quantitative", "scale": {"domain": [-7.7, 161.2], "nice": false, "zero": false},
       "axis": {"title": null, "values": [0,25,50,75,100,125,150], "labels": false, "ticks": false, "gridWidth": {"condition": {"test": "datum.value % 50 === 0", "value": 2.2}, "value": 1.1}}}, "x2": {"datum": 161.2},
      "y": {"datum": 1.05, "type": "quantitative", "scale": {"domain": [-0.05, 1.347], "nice": false, "zero": false},
       "axis": {"title": "survival probability", "titleX": -102, "titleY": 154, "titleAngle": 270, "titleBaseline": "middle", "titleAlign": "center", "values": [0,0.125,0.25,0.375,0.5,0.625,0.75,0.875,1], "labelExpr": "datum.value % 0.5 === 0 ? format(datum.value, '.2f') : ''", "tickOpacity": {"condition": {"test": "datum.value % 0.25 === 0", "value": 1}, "value": 0}, "tickSize": 8, "labelPadding": 8, "gridWidth": {"condition": {"test": "datum.value % 0.25 === 0", "value": 2.2}, "value": 1.1}}}, "y2": {"datum": 1.347}}},
    {"data": {"name": "strips"}, "transform": [{"filter": "datum.panel === 'del(1p)'"}], "mark": {"type": "text", "fontSize": 30, "color": "#1A1A1A", "baseline": "middle"},
     "encoding": {"y": {"datum": 1.1985, "type": "quantitative"}, "text": {"field": "panel"}}},
    {"data": {"values": [{}]}, "mark": {"type": "rule", "color": "black", "strokeWidth": 2.6, "strokeDash": [2.6, 7.4]},
     "encoding": {"y": {"datum": 0.5, "type": "quantitative"}}},
    {"data": {"name": "med"}, "transform": [{"filter": "datum.panel === 'del(1p)'"}],
     "mark": {"type": "rule", "strokeWidth": 2.6, "strokeDash": [15, 15]},
     "encoding": {"x": {"field": "median", "type": "quantitative"},
      "y": {"datum": 0.5, "type": "quantitative"}, "y2": {"datum": 0},
      "stroke": {"field": "group", "type": "nominal", "scale": {"domain": ["low","high","extreme","none"], "range": ["#0000FF","#00FF00","#FF0000","#000000"]}, "legend": null}}},
    {"data": {"name": "km"}, "transform": [{"filter": "datum.panel === 'del(1p)'"}],
     "mark": {"type": "line", "interpolate": "step-after", "strokeWidth": 3},
     "encoding": {"x": {"field": "t", "type": "quantitative"}, "y": {"field": "s", "type": "quantitative"},
      "stroke": {"field": "group", "type": "nominal", "scale": {"domain": ["low","high","extreme","none"], "range": ["#0000FF","#00FF00","#FF0000","#000000"]}, "legend": null}}},
    {"data": {"name": "km"}, "transform": [{"filter": "datum.panel === 'del(1p)'"}],
     "mark": {"type": "circle", "size": 36, "opacity": 1},
     "encoding": {"x": {"field": "t", "type": "quantitative"}, "y": {"field": "s", "type": "quantitative"},
      "color": {"field": "group", "type": "nominal", "scale": {"domain": ["low","high","extreme"], "range": ["#0000FF","#00FF00","#FF0000"]}, "legend": null}}},
    {"data": {"name": "pv"}, "transform": [{"filter": "datum.panel === 'del(1p)'"}],
     "mark": {"type": "text", "align": "left", "baseline": "middle", "fontSize": 23.5, "color": "black"},
     "encoding": {"x": {"datum": 25, "type": "quantitative"}, "y": {"datum": 0.94, "type": "quantitative"}, "text": {"field": "label"}}}
   ]
  },
  {
   "width": 453, "height": 254,
   "title": {"text": "D", "anchor": "start", "frame": "group", "offset": 0, "baseline": "top", "dx": -44.3, "dy": 30.5, "fontSize": 42, "fontWeight": "normal", "color": "black"},
   "layer": [
    {"data": {"name": "strips"}, "transform": [{"filter": "datum.panel === 'ISS'"}], "mark": {"type": "rect", "fill": "white", "stroke": "black", "strokeWidth": 1.5},
     "encoding": {"x": {"datum": -7.7, "type": "quantitative", "scale": {"domain": [-7.7, 161.2], "nice": false, "zero": false},
       "axis": {"title": null, "values": [0,25,50,75,100,125,150], "labelExpr": "datum.value % 50 === 0 ? datum.label : ''", "tickOpacity": {"condition": {"test": "datum.value % 50 === 0", "value": 1}, "value": 0}, "tickSize": 9, "labelPadding": 4, "gridWidth": {"condition": {"test": "datum.value % 50 === 0", "value": 2.2}, "value": 1.1}}}, "x2": {"datum": 161.2},
      "y": {"datum": 1.05, "type": "quantitative", "scale": {"domain": [-0.05, 1.347], "nice": false, "zero": false},
       "axis": {"title": null, "values": [0,0.125,0.25,0.375,0.5,0.625,0.75,0.875,1], "labels": false, "ticks": false, "gridWidth": {"condition": {"test": "datum.value % 0.25 === 0", "value": 2.2}, "value": 1.1}}}, "y2": {"datum": 1.347}}},
    {"data": {"name": "strips"}, "transform": [{"filter": "datum.panel === 'ISS'"}], "mark": {"type": "text", "fontSize": 30, "color": "#1A1A1A", "baseline": "middle"},
     "encoding": {"y": {"datum": 1.1985, "type": "quantitative"}, "text": {"field": "panel"}}},
    {"data": {"values": [{}]}, "mark": {"type": "rule", "color": "black", "strokeWidth": 2.6, "strokeDash": [2.6, 7.4]},
     "encoding": {"y": {"datum": 0.5, "type": "quantitative"}}},
    {"data": {"name": "med"}, "transform": [{"filter": "datum.panel === 'ISS'"}],
     "mark": {"type": "rule", "strokeWidth": 2.6, "strokeDash": [15, 15]},
     "encoding": {"x": {"field": "median", "type": "quantitative"},
      "y": {"datum": 0.5, "type": "quantitative"}, "y2": {"datum": 0},
      "stroke": {"field": "group", "type": "nominal", "scale": {"domain": ["I","II","III","none"], "range": ["#0000FF","#00FF00","#FF0000","#000000"]}, "legend": null}}},
    {"data": {"name": "km"}, "transform": [{"filter": "datum.panel === 'ISS'"}],
     "mark": {"type": "line", "interpolate": "step-after", "strokeWidth": 3},
     "encoding": {"x": {"field": "t", "type": "quantitative"}, "y": {"field": "s", "type": "quantitative"},
      "stroke": {"field": "group", "type": "nominal", "scale": {"domain": ["I","II","III","none"], "range": ["#0000FF","#00FF00","#FF0000","#000000"]}, "legend": null}}},
    {"data": {"name": "km"}, "transform": [{"filter": "datum.panel === 'ISS'"}],
     "mark": {"type": "circle", "size": 36, "opacity": 1},
     "encoding": {"x": {"field": "t", "type": "quantitative"}, "y": {"field": "s", "type": "quantitative"},
      "color": {"field": "group", "type": "nominal", "scale": {"domain": ["I","II","III"], "range": ["#0000FF","#00FF00","#FF0000"]},
       "legend": {"orient": "none", "legendX": 390.5, "legendY": 58, "title": "ISS", "titleFontSize": 22, "titleFontWeight": "normal", "titleColor": "black", "titlePadding": 1, "symbolType": "M-2,-0.2H2V0.2H-2Z M0.6,0A0.6,0.6 0 1,1 -0.6,0A0.6,0.6 0 1,1 0.6,0Z", "symbolSize": 272, "symbolStrokeWidth": 0, "symbolOffset": 0, "labelOffset": 14.5, "labelFontSize": 20, "labelColor": "black", "rowPadding": 3.5, "padding": 3, "fillColor": "white"}}}},
    {"data": {"name": "pv"}, "transform": [{"filter": "datum.panel === 'ISS'"}],
     "mark": {"type": "text", "align": "left", "baseline": "middle", "fontSize": 23.5, "color": "black"},
     "encoding": {"x": {"datum": 32.5, "type": "quantitative"}, "y": {"datum": 0.94, "type": "quantitative"}, "text": {"field": "label"}}}
   ]
  },
  {
   "width": 453, "height": 254,
   "title": {"text": "E", "anchor": "start", "frame": "group", "offset": 0, "baseline": "top", "dx": -159.6, "dy": 61.5, "fontSize": 42, "fontWeight": "normal", "color": "black"},
   "layer": [
    {"data": {"name": "strips"}, "transform": [{"filter": "datum.panel === 'GEP70'"}], "mark": {"type": "rect", "fill": "white", "stroke": "black", "strokeWidth": 1.5},
     "encoding": {"x": {"datum": -7.7, "type": "quantitative", "scale": {"domain": [-7.7, 161.2], "nice": false, "zero": false},
       "axis": {"title": "PFS (months)", "titleX": 458, "titleY": 76, "titleAngle": 0, "titleBaseline": "alphabetic", "titleAlign": "center", "values": [0,25,50,75,100,125,150], "labelExpr": "datum.value % 50 === 0 ? datum.label : ''", "tickOpacity": {"condition": {"test": "datum.value % 50 === 0", "value": 1}, "value": 0}, "tickSize": 9, "labelPadding": 4, "gridWidth": {"condition": {"test": "datum.value % 50 === 0", "value": 2.2}, "value": 1.1}}}, "x2": {"datum": 161.2},
      "y": {"datum": 1.05, "type": "quantitative", "scale": {"domain": [-0.05, 1.347], "nice": false, "zero": false},
       "axis": {"title": null, "values": [0,0.125,0.25,0.375,0.5,0.625,0.75,0.875,1], "labelExpr": "datum.value % 0.5 === 0 ? format(datum.value, '.2f') : ''", "tickOpacity": {"condition": {"test": "datum.value % 0.25 === 0", "value": 1}, "value": 0}, "tickSize": 8, "labelPadding": 8, "gridWidth": {"condition": {"test": "datum.value % 0.25 === 0", "value": 2.2}, "value": 1.1}}}, "y2": {"datum": 1.347}}},
    {"data": {"name": "strips"}, "transform": [{"filter": "datum.panel === 'GEP70'"}], "mark": {"type": "text", "fontSize": 30, "color": "#1A1A1A", "baseline": "middle"},
     "encoding": {"y": {"datum": 1.1985, "type": "quantitative"}, "text": {"field": "panel"}}},
    {"data": {"values": [{}]}, "mark": {"type": "rule", "color": "black", "strokeWidth": 2.6, "strokeDash": [2.6, 7.4]},
     "encoding": {"y": {"datum": 0.5, "type": "quantitative"}}},
    {"data": {"name": "med"}, "transform": [{"filter": "datum.panel === 'GEP70'"}],
     "mark": {"type": "rule", "strokeWidth": 2.6, "strokeDash": [15, 15]},
     "encoding": {"x": {"field": "median", "type": "quantitative"},
      "y": {"datum": 0.5, "type": "quantitative"}, "y2": {"datum": 0},
      "stroke": {"field": "group", "type": "nominal", "scale": {"domain": ["low","high","extreme","none"], "range": ["#0000FF","#00FF00","#FF0000","#000000"]}, "legend": null}}},
    {"data": {"name": "km"}, "transform": [{"filter": "datum.panel === 'GEP70'"}],
     "mark": {"type": "line", "interpolate": "step-after", "strokeWidth": 3},
     "encoding": {"x": {"field": "t", "type": "quantitative"}, "y": {"field": "s", "type": "quantitative"},
      "stroke": {"field": "group", "type": "nominal", "scale": {"domain": ["low","high","extreme","none"], "range": ["#0000FF","#00FF00","#FF0000","#000000"]}, "legend": null}}},
    {"data": {"name": "km"}, "transform": [{"filter": "datum.panel === 'GEP70'"}],
     "mark": {"type": "circle", "size": 36, "opacity": 1},
     "encoding": {"x": {"field": "t", "type": "quantitative"}, "y": {"field": "s", "type": "quantitative"},
      "color": {"field": "group", "type": "nominal", "scale": {"domain": ["low","high","extreme"], "range": ["#0000FF","#00FF00","#FF0000"]}, "legend": null}}},
    {"data": {"name": "pv"}, "transform": [{"filter": "datum.panel === 'GEP70'"}],
     "mark": {"type": "text", "align": "left", "baseline": "middle", "fontSize": 23.5, "color": "black"},
     "encoding": {"x": {"datum": 25.5, "type": "quantitative"}, "y": {"datum": 0.95, "type": "quantitative"}, "text": {"field": "label"}}}
   ]
  },
  {
   "width": 449.5, "height": 338,
   "view": {"stroke": null},
   "title": {"text": "F", "anchor": "start", "frame": "group", "offset": 0, "baseline": "top", "dx": -41.4, "dy": 50.5, "fontSize": 42, "fontWeight": "normal", "color": "black"},
   "layer": [
    {"data": {"values": [{}]}, "mark": {"type": "rule", "color": "#1A1A1A", "strokeWidth": 2.6},
     "encoding": {"x": {"datum": "s00", "type": "nominal", "scale": {"type": "point", "domain": ["s00","s01","method","s03","s04","s05","extreme","s07","s08","high","s10","s11","low","s13"], "padding": 0.209}, "axis": null},
      "x2": {"datum": "s13"},
      "y": {"datum": "yh", "type": "nominal", "scale": {"type": "point", "domain": ["yt","method","yh","agnostic","y1","del(13)","y2","del(1p)","y3","GEP70","y4","ISS","yb"], "range": [47.8, 290.2], "padding": 0}, "axis": null}}},
    {"data": {"values": [{}]}, "mark": {"type": "rule", "color": "#1A1A1A", "strokeWidth": 2.2},
     "encoding": {"x": {"datum": "s04", "type": "nominal", "axis": null},
      "y": {"datum": "yt", "type": "nominal", "axis": null}, "y2": {"datum": "yb"}}},
    {"data": {"name": "tblh"},
     "mark": {"type": "text", "font": "Lato", "fontSize": 28.5, "fontWeight": "bold", "color": "black", "baseline": "middle"},
     "encoding": {"x": {"field": "h", "type": "nominal", "axis": null}, "y": {"datum": "method", "type": "nominal", "axis": null}, "text": {"field": "h"}}},
    {"data": {"name": "tbl"},
     "mark": {"type": "text", "font": "Lato", "fontSize": 28.5, "fontWeight": "bold", "color": "black", "baseline": "middle"},
     "encoding": {"x": {"datum": "method", "type": "nominal", "axis": null}, "y": {"field": "method", "type": "nominal", "axis": null}, "text": {"field": "method"}}},
    {"data": {"name": "tbl"}, "transform": [{"fold": ["extreme", "high", "low"]}],
     "mark": {"type": "text", "font": "Lato", "fontSize": 28.5, "color": "black", "baseline": "middle"},
     "encoding": {"x": {"field": "key", "type": "nominal", "axis": null}, "y": {"field": "method", "type": "nominal", "axis": null}, "text": {"field": "value"}}}
   ]
  }
 ]
}
